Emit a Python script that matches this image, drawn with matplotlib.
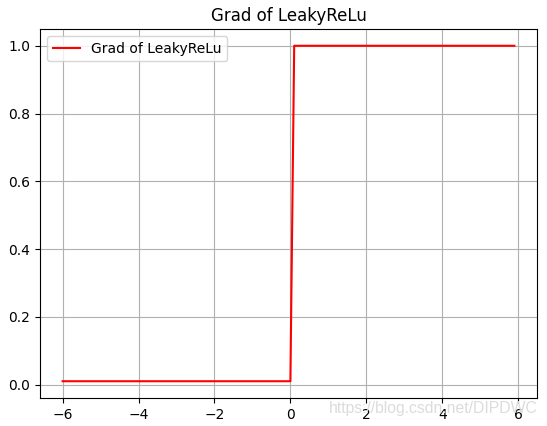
import matplotlib
matplotlib.use("Agg")
import matplotlib.pyplot as plt

# Step-function breakpoints of the LeakyReLU gradient as drawn
x_vals = [-6.0, 0.0, 0.1, 5.9]
y_vals = [0.01, 0.01, 1.0, 1.0]
series_label = "Grad of LeakyReLu"
title = "Grad of LeakyReLu"
watermark = "https://blog.csdn.net/DIPDWC"

fig = plt.figure(figsize=(5.47, 4.26), dpi=100)
ax = fig.add_axes([40/547, (426-398)/426, 497/547, 369/426])
ax.plot(x_vals, y_vals, color="red", label=series_label)
ax.set_title(title)
ax.grid(True)
ax.legend(loc="upper left")
fig.text(538/547, (426-408)/426, watermark, ha="right", va="center",
         fontsize=11.3, color="#dcdcdc", family="Liberation Sans")
fig.savefig("out.png", dpi=100)
